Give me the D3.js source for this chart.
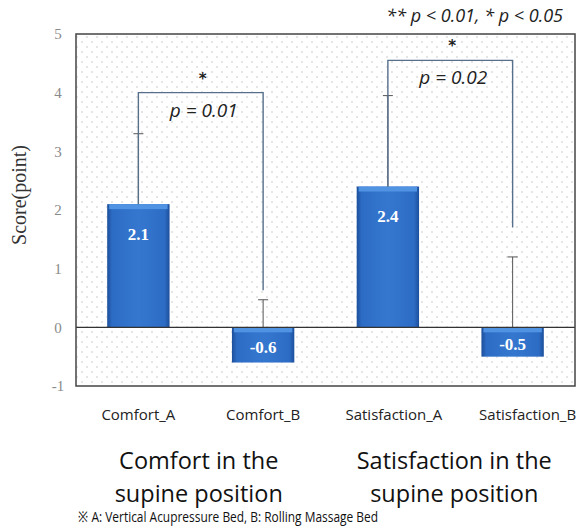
<!DOCTYPE html>
<html>
<head>
<meta charset="utf-8">
<script src="https://cdn.jsdelivr.net/npm/d3@7"></script>
<style>
  body { margin: 0; background: #fff; }
  svg { display: block; }
</style>
</head>
<body>
<svg width="588" height="528"></svg>
<script>
const categories = ['Comfort_A', 'Comfort_B', 'Satisfaction_A', 'Satisfaction_B'];
const means = [2.1, -0.6, 2.4, -0.5];
const upperErr = [3.3, 0.47, 3.95, 1.2];
const yTicks = [-1, 0, 1, 2, 3, 4, 5];
// comparisons: from bar i to bar j, bracket height, right leg end, p text
const compFrom = [0, 2];
const compTo = [1, 3];
const compTop = [4.0, 4.55];
const compRightEnd = [0.63, 1.7];
const compText = ['p = 0.01', 'p = 0.02'];
const groupLabels = [['Comfort in the', 'supine position'], ['Satisfaction in the', 'supine position']];
const note = '※ A: Vertical Acupressure Bed, B: Rolling Massage Bed';
const sigNote = '** p < 0.01, * p < 0.05';

const plotLeft = 76, plotRight = 575, plotTop = 34, plotBottom = 386;

const svg = d3.select('svg');

const x = d3.scaleBand()
  .domain(categories)
  .range([plotLeft, plotRight])
  .paddingInner(0.5)
  .paddingOuter(0.25);

const y = d3.scaleLinear()
  .domain([-1, 5])
  .range([plotBottom, plotTop]);

const defs = svg.append('defs');

const dots = defs.append('pattern')
  .attr('id', 'dots')
  .attr('width', 10)
  .attr('height', 10)
  .attr('patternUnits', 'userSpaceOnUse');
dots.append('rect').attr('width', 10).attr('height', 10).attr('fill', '#fff');
dots.append('circle').attr('cx', 2).attr('cy', 2).attr('r', 0.8).attr('fill', '#c4c4c4');
dots.append('circle').attr('cx', 7).attr('cy', 7).attr('r', 0.8).attr('fill', '#c4c4c4');

const grad = defs.append('linearGradient')
  .attr('id', 'barGrad')
  .attr('x1', 0).attr('x2', 1).attr('y1', 0).attr('y2', 0);
grad.append('stop').attr('offset', '0%').attr('stop-color', '#1c4f9c');
grad.append('stop').attr('offset', '8%').attr('stop-color', '#2d6cc4');
grad.append('stop').attr('offset', '50%').attr('stop-color', '#3577cf');
grad.append('stop').attr('offset', '92%').attr('stop-color', '#2d6cc4');
grad.append('stop').attr('offset', '100%').attr('stop-color', '#1c4f9c');

// plot area
svg.append('rect')
  .attr('x', plotLeft).attr('y', plotTop)
  .attr('width', plotRight - plotLeft).attr('height', plotBottom - plotTop)
  .attr('fill', 'url(#dots)');

// y tick labels
svg.append('g')
  .selectAll('text')
  .data(yTicks)
  .join('text')
  .attr('x', plotLeft - 18)
  .attr('y', d => y(d))
  .attr('dy', '0.35em')
  .attr('text-anchor', 'middle')
  .attr('font-family', 'Liberation Serif, DejaVu Serif, serif')
  .attr('font-size', 15)
  .attr('fill', '#8a8a8a')
  .text(d => d);

svg.append('text')
  .attr('transform', `translate(26,${(plotTop + plotBottom) / 2 - 15}) rotate(-90)`)
  .attr('text-anchor', 'middle')
  .attr('font-family', 'Liberation Serif, DejaVu Serif, serif')
  .attr('font-size', 20)
  .attr('fill', '#333')
  .text('Score(point)');

// bars
const bars = svg.append('g')
  .selectAll('g')
  .data(categories)
  .join('g');

bars.append('rect')
  .attr('x', d => x(d))
  .attr('y', (d, i) => y(Math.max(0, means[i])))
  .attr('width', x.bandwidth())
  .attr('height', (d, i) => Math.abs(y(means[i]) - y(0)))
  .attr('fill', 'url(#barGrad)');

bars.append('rect')
  .attr('x', d => x(d) + 2)
  .attr('y', (d, i) => y(Math.max(0, means[i])))
  .attr('width', x.bandwidth() - 4)
  .attr('height', 5)
  .attr('fill', '#4f93e2');

// error bars
bars.append('line')
  .attr('x1', d => x(d) + x.bandwidth() / 2)
  .attr('x2', d => x(d) + x.bandwidth() / 2)
  .attr('y1', (d, i) => y(Math.max(0, means[i])))
  .attr('y2', (d, i) => y(upperErr[i]))
  .attr('stroke', '#555')
  .attr('stroke-width', 1);

bars.append('line')
  .attr('x1', d => x(d) + x.bandwidth() / 2 - 5)
  .attr('x2', d => x(d) + x.bandwidth() / 2 + 5)
  .attr('y1', (d, i) => y(upperErr[i]))
  .attr('y2', (d, i) => y(upperErr[i]))
  .attr('stroke', '#555')
  .attr('stroke-width', 1);

bars.append('text')
  .attr('x', d => x(d) + x.bandwidth() / 2)
  .attr('y', (d, i) => means[i] > 0 ? y(means[i]) + 30 : (y(0) + y(means[i])) / 2 + 2)
  .attr('dy', '0.35em')
  .attr('text-anchor', 'middle')
  .attr('font-family', 'Liberation Serif, DejaVu Serif, serif')
  .attr('font-weight', 'bold')
  .attr('font-size', 17)
  .attr('fill', '#fff')
  .text((d, i) => means[i]);

// zero line and frame
svg.append('line')
  .attr('x1', plotLeft).attr('x2', plotRight)
  .attr('y1', y(0)).attr('y2', y(0))
  .attr('stroke', '#333').attr('stroke-width', 1.3);

svg.append('rect')
  .attr('x', plotLeft).attr('y', plotTop)
  .attr('width', plotRight - plotLeft).attr('height', plotBottom - plotTop)
  .attr('fill', 'none')
  .attr('stroke', '#444')
  .attr('stroke-width', 1.5);

// significance brackets
const cx = d => x(d) + x.bandwidth() / 2;
const brackets = svg.append('g')
  .selectAll('g')
  .data(compFrom)
  .join('g');

brackets.append('path')
  .attr('d', (d, i) => {
    const x1 = cx(categories[d]);
    const x2 = cx(categories[compTo[i]]);
    return d3.line()([
      [x1, y(Math.max(0, means[d]))],
      [x1, y(compTop[i])],
      [x2, y(compTop[i])],
      [x2, y(compRightEnd[i])]
    ]);
  })
  .attr('fill', 'none')
  .attr('stroke', '#56708c')
  .attr('stroke-width', 1.4);

brackets.append('text')
  .attr('x', (d, i) => (cx(categories[d]) + cx(categories[compTo[i]])) / 2 + 2)
  .attr('y', (d, i) => y(compTop[i]) - 9)
  .attr('text-anchor', 'middle')
  .attr('font-family', 'DejaVu Sans, sans-serif')
  .attr('font-weight', 'bold')
  .attr('font-size', 15)
  .attr('fill', '#222')
  .text('*');

brackets.append('text')
  .attr('x', (d, i) => (cx(categories[d]) + cx(categories[compTo[i]])) / 2 + 3)
  .attr('y', (d, i) => y(compTop[i]) + 24)
  .attr('text-anchor', 'middle')
  .attr('font-family', 'Open Sans, Liberation Sans, sans-serif')
  .attr('font-style', 'italic')
  .attr('font-size', 19)
  .attr('fill', '#222')
  .text((d, i) => compText[i]);

svg.append('text')
  .attr('x', plotRight - 12)
  .attr('y', 22)
  .attr('text-anchor', 'end')
  .attr('font-family', 'Open Sans, Liberation Sans, sans-serif')
  .attr('font-style', 'italic')
  .attr('font-size', 18)
  .attr('fill', '#222')
  .text(sigNote);

// category labels
svg.append('g')
  .selectAll('text')
  .data(categories)
  .join('text')
  .attr('x', (d, i) => cx(d) + (i > 1 ? 6 + (i - 2) * 9 : 0))
  .attr('y', 420)
  .attr('text-anchor', 'middle')
  .attr('font-family', 'Open Sans, Liberation Sans, sans-serif')
  .attr('font-size', 15)
  .attr('fill', '#222')
  .text(d => d);

// group labels
const groups = svg.append('g')
  .selectAll('text')
  .data(groupLabels)
  .join('text')
  .attr('text-anchor', 'middle')
  .attr('font-family', 'Open Sans, Liberation Sans, sans-serif')
  .attr('font-size', 23.5)
  .attr('fill', '#111');

groups.selectAll('tspan')
  .data((d, gi) => d.map(t => ({ t, gi })))
  .join('tspan')
  .attr('x', d => (cx(categories[d.gi * 2]) + cx(categories[d.gi * 2 + 1])) / 2 + (d.gi ? 4 : -2))
  .attr('y', (d, i) => 469 + i * 33)
  .text(d => d.t);

svg.append('text')
  .attr('x', 78)
  .attr('y', 522)
  .attr('font-family', 'Open Sans, Liberation Sans, sans-serif')
  .attr('font-size', 15)
  .attr('textLength', 300)
  .attr('lengthAdjust', 'spacingAndGlyphs')
  .attr('fill', '#111')
  .text(note);
</script>
</body>
</html>
